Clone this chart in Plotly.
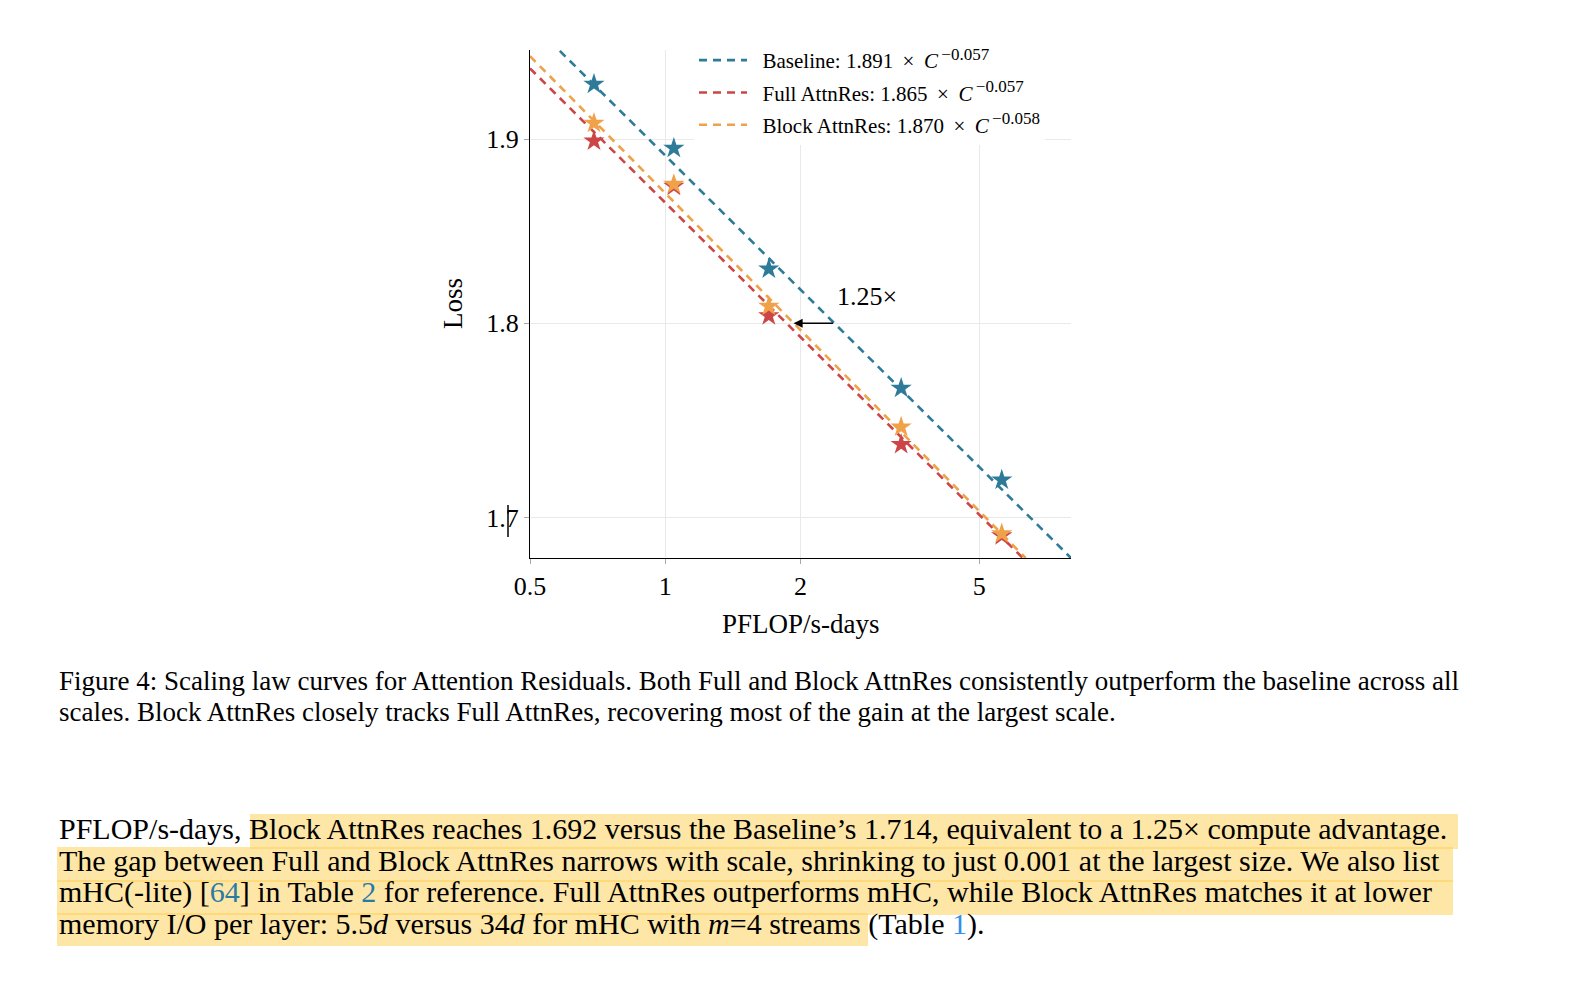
import math
import plotly.graph_objects as go

# compute budget (PFLOP/s-days) of the five runs
compute = [0.694, 1.045, 1.70, 3.35, 5.61]

loss_baseline = [1.931, 1.895, 1.829, 1.766, 1.719]
loss_full = [1.899, 1.874, 1.804, 1.737, 1.691]
loss_block = [1.909, 1.875, 1.809, 1.746, 1.692]

# fitted power-law lines, end points (straight in log-log)
fit_x_baseline = [0.5, 8.0]
fit_y_baseline = [1.967, 1.680]
fit_x_full = [0.5, 6.25]
fit_y_full = [1.940, 1.680]
fit_x_block = [0.5, 6.34]
fit_y_block = [1.947, 1.680]

fit_labels = ["Baseline", "Full AttnRes", "Block AttnRes"]
fit_coef = ["1.891", "1.865", "1.870"]
fit_exp = ["−0.057", "−0.057", "−0.058"]

x_ticks = [0.5, 1, 2, 5]
x_ticktext = ["0.5", "1", "2", "5"]
y_ticks = [1.7, 1.8, 1.9]
y_ticktext = ["1.7", "1.8", "1.9"]

caption = ["Figure 4: Scaling law curves for Attention Residuals. Both Full and Block AttnRes consistently outperform the baseline across all",
           "scales. Block AttnRes closely tracks Full AttnRes, recovering most of the gain at the largest scale."]

LINK = "#2a7aa8"
body = ["PFLOP/s-days, Block AttnRes reaches 1.692 versus the Baseline’s 1.714, equivalent to a 1.25× compute advantage.",
        "The gap between Full and Block AttnRes narrows with scale, shrinking to just 0.001 at the largest size. We also list",
        "mHC(-lite) [<span style='color:%s'>64</span>] in Table <span style='color:%s'>2</span> for reference. Full AttnRes outperforms mHC, while Block AttnRes matches it at lower" % (LINK, LINK),
        "memory I/O per layer: 5.5<i>d</i> versus 34<i>d</i> for mHC with <i>m</i>=4 streams (Table <span style='color:#2f8ef0'>1</span>)."]

BLUE = "#2d7b98"
RED = "#cc4647"
ORANGE = "#f0a24a"
FONT = "Liberation Serif"

# page geometry (browser body has an 8px margin)
OFF = 8
W, H = 1563, 975
L, R, T, B = 522, 1063, 42, 550


def px(xp):
    return (xp - OFF - L) / (R - L)


def py(yp):
    return (B - (yp - OFF)) / (B - T)


fig = go.Figure()

series = [(fit_x_baseline, fit_y_baseline, loss_baseline, BLUE),
          (fit_x_full, fit_y_full, loss_full, RED),
          (fit_x_block, fit_y_block, loss_block, ORANGE)]

for i, (fx, fy, ly, col) in enumerate(series):
    name = ("\u2002%s: %s\u2009 ×\u2009 <i>C</i><sup><span style='font-size:17px'>\u2009%s</span></sup>"
            % (fit_labels[i], fit_coef[i], fit_exp[i]))
    fig.add_trace(go.Scatter(x=fx, y=fy, mode="lines", name=name,
                             legendgroup=str(i),
                             line=dict(color=col, width=2.6, dash="8px,6px")))

for i, (fx, fy, ly, col) in enumerate(series):
    fig.add_trace(go.Scatter(x=compute, y=ly, mode="markers", showlegend=False,
                             marker=dict(symbol="star", size=16, color=col,
                                         line=dict(width=0))))

axis_style = dict(type="log", showgrid=True, gridcolor="#e9e9e9", gridwidth=1,
                  showline=True, linecolor="black", linewidth=1.2,
                  ticks="outside", ticklen=5, tickcolor="#aaaaaa",
                  tickfont=dict(family=FONT, size=26, color="black"),
                  zeroline=False)
fig.update_xaxes(range=[math.log10(0.5), math.log10(8.0)],
                 tickvals=x_ticks, ticktext=x_ticktext, **axis_style)
fig.update_yaxes(range=[math.log10(1.680), math.log10(1.9505)],
                 tickvals=y_ticks, ticktext=y_ticktext, **axis_style)

ann = []
# axis titles
ann.append(dict(text="Loss", x=px(453), y=py(304), xref="paper", yref="paper",
                xanchor="center", yanchor="middle",
                showarrow=False, textangle=-90, font=dict(family=FONT, size=27, color="black")))
ann.append(dict(text="PFLOP/s-days", x=px(801), y=py(624), xref="paper", yref="paper",
                xanchor="center", yanchor="middle",
                showarrow=False, font=dict(family=FONT, size=27, color="black")))

# compute-advantage arrow at loss 1.8
ann.append(dict(x=math.log10(1.93), y=math.log10(1.8), ax=math.log10(2.38), ay=math.log10(1.8),
                xref="x", yref="y", axref="x", ayref="y", text="", showarrow=True,
                arrowhead=2, arrowsize=1.3, arrowwidth=1.4, arrowcolor="black"))
ann.append(dict(text="1.25×", x=math.log10(2.39), y=math.log10(1.8144), xref="x", yref="y",
                xanchor="left", yanchor="middle", showarrow=False,
                font=dict(family=FONT, size=26, color="black")))

# caption
for k, line in enumerate(caption):
    ann.append(dict(text=line, x=px(57), y=py(681 + 31 * k), xref="paper", yref="paper",
                    xanchor="left", yanchor="middle", showarrow=False,
                    font=dict(family=FONT, size=27, color="black")))

# body text
for k, line in enumerate(body):
    ann.append(dict(text=line, x=px(57), y=py(828 + 32 * k), xref="paper", yref="paper",
                    xanchor="left", yanchor="middle", showarrow=False,
                    font=dict(family=FONT, size=30, color="black")))

shapes = []
hl = [(250, 1458, 814, 849), (57, 1453, 847, 882), (57, 1453, 880, 915), (57, 868, 913, 946)]
for x0, x1, y0, y1 in hl:
    shapes.append(dict(type="rect", xref="paper", yref="paper", x0=px(x0), x1=px(x1),
                       y0=py(y1), y1=py(y0), fillcolor="rgba(253,205,80,0.5)",
                       line=dict(width=0), layer="below"))
# stray mark over the 1.7 label
shapes.append(dict(type="line", xref="paper", yref="paper", x0=px(508), x1=px(508),
                   y0=py(537), y1=py(505), line=dict(color="black", width=1.5)))

fig.update_layout(width=W, height=H, margin=dict(l=L, r=W - R, t=T, b=H - B),
                  paper_bgcolor="white", plot_bgcolor="white",
                  showlegend=True,
                  legend=dict(x=px(694), y=py(40), xanchor="left", yanchor="top",
                              bgcolor="white", borderwidth=0, tracegroupgap=2,
                              itemwidth=48,
                              font=dict(family=FONT, size=21, color="black")),
                  annotations=ann, shapes=shapes)

fig.write_html("out.html")
